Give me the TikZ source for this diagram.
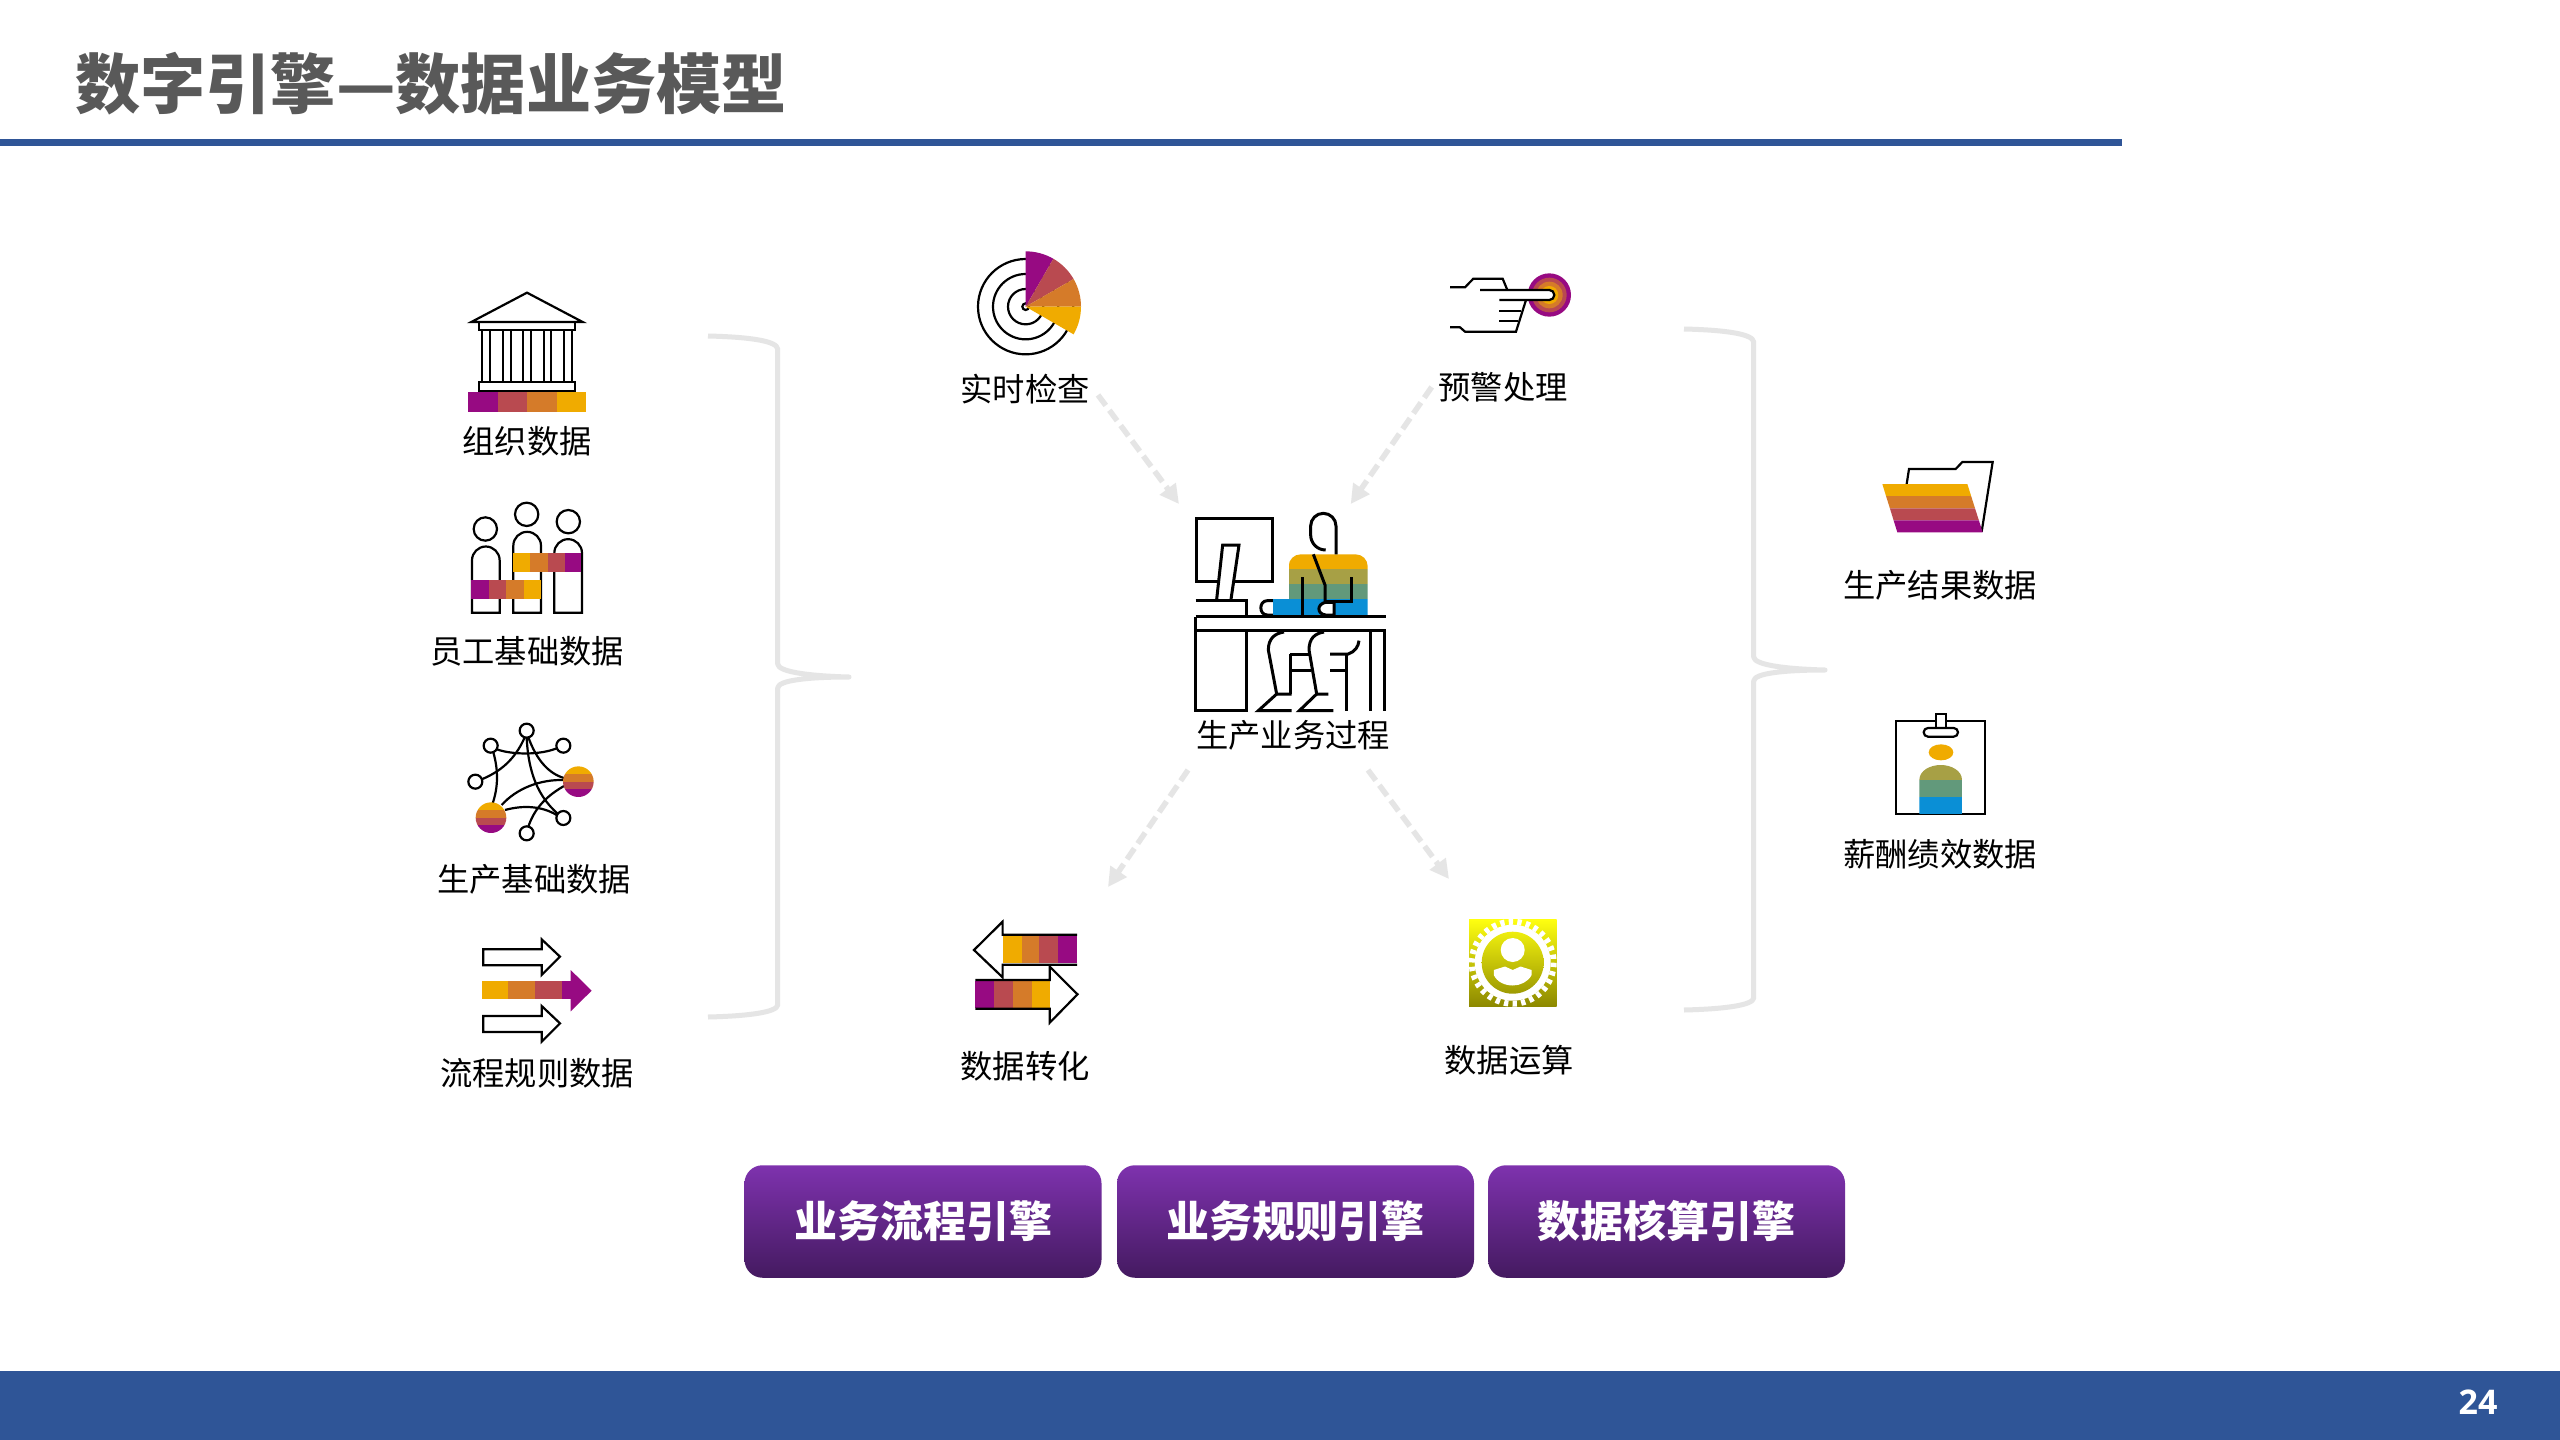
\documentclass[tikz,border=0pt]{standalone}
\usepackage{fontspec}
\usetikzlibrary{arrows.meta}
\setmainfont{Noto Sans CJK SC}
\newfontfamily\numfont{Open Sans}
\definecolor{cP}{HTML}{970A82}
\definecolor{cR}{HTML}{B94A50}
\definecolor{cO}{HTML}{D57B29}
\definecolor{cY}{HTML}{F0AB00}
\definecolor{cL}{HTML}{A7A045}
\definecolor{cG}{HTML}{62997B}
\definecolor{cB}{HTML}{0A8FD6}
\definecolor{barblue}{HTML}{2F5597}
\definecolor{lightg}{HTML}{E5E5E5}
\definecolor{titleg}{HTML}{595959}
\definecolor{gearTop}{HTML}{FFFF10}
\definecolor{gearBot}{HTML}{8C8800}
\tikzset{
  zm/.style={x=0.33333pt,y=-0.33333pt},
  ic/.style={draw=black,line width=2.2pt,line join=miter},
  icb/.style={draw=black,line width=3pt,line join=miter},
  lab/.style={inner sep=0pt,font=\fontsize{32.3}{38}\selectfont,text=black},
  engine/.style={rectangle,rounded corners=18pt,minimum width=357pt,minimum height=112.5pt,inner sep=0pt,
    top color=btnTop,middle color=btnMid,bottom color=btnBot,text=white,font=\fontsize{43}{50}\selectfont\bfseries},
  flowarrow/.style={draw=lightg,line width=5.5pt,dash pattern=on 13pt off 6pt,-{Triangle[length=19pt,width=19pt]}},
  bracket/.style={draw=lightg,line width=5pt,line join=round}
}
\definecolor{btnTop}{HTML}{7E32AE}
\definecolor{btnMid}{HTML}{6C2C9A}
\definecolor{btnBot}{HTML}{441A60}
\begin{document}
\begin{tikzpicture}[x=1pt,y=-1pt]
\useasboundingbox (0,0) rectangle (2560,1440);
\fill[white] (0,0) rectangle (2560,1440);
% title and bars
\node[anchor=west,inner sep=0pt,text=titleg,font=\fontsize{65.2}{70}\selectfont\bfseries] (title) at (75,84) {数字引擎—数据业务模型};
\fill[barblue] (0,139) rectangle (2122,146);
\fill[barblue] (0,1371) rectangle (2560,1440);
\node[inner sep=0pt,text=white,font=\numfont\fontsize{34}{40}\selectfont\bfseries] (pageno) at (2478,1402) {24};

% braces
\draw[bracket] (708,336) .. controls (750,337) and (777,341) .. (777.7,349) -- (777.7,664)
  .. controls (778,672) and (810,676) .. (849,677)
  .. controls (810,677) and (778,680) .. (777.7,688) -- (777.7,1005)
  .. controls (777,1012) and (750,1016) .. (708,1017);
\draw[bracket,shift={(976,-7)}] (708,336) .. controls (750,337) and (777,341) .. (777.7,349) -- (777.7,664)
  .. controls (778,672) and (810,676) .. (849,677)
  .. controls (810,677) and (778,680) .. (777.7,688) -- (777.7,1005)
  .. controls (777,1012) and (750,1016) .. (708,1017);

% building + people
\begin{scope}[shift={(400,260)},zm]
  \draw[ic] (214,186) -- (381,98) -- (548,186) -- cycle;
  \draw[ic] (238,186) rectangle (524,209);
  \foreach \a/\b in {247/270,310/332,370/393,432/453,493/517}{
    \draw[ic] (\a,209) -- (\a,367) (\b,209) -- (\b,367);
  }
  \draw[ic] (238,367) rectangle (524,392);
  \fill[cP] (205,395) rectangle (294,456);
  \fill[cR] (294,395) rectangle (381,456);
  \fill[cO] (381,395) rectangle (470,456);
  \fill[cY] (470,395) rectangle (557,456);
  % people
  \draw[ic] (256,807) circle (35);
  \draw[ic] (380,763) circle (35);
  \draw[ic] (505,785) circle (35);
  \draw[ic] (216,1058) -- (216,901) arc[start angle=180,end angle=0,radius=13.83pt] -- (299,1058) -- cycle;
  \draw[ic] (340,1058) -- (340,857) arc[start angle=180,end angle=0,radius=13.83pt] -- (423,1058) -- cycle;
  \draw[ic] (463,1058) -- (463,879) arc[start angle=180,end angle=0,radius=13.83pt] -- (546,1058) -- cycle;
  \fill[cY] (338,880) rectangle (390,937);
  \fill[cO] (390,880) rectangle (444,937);
  \fill[cR] (444,880) rectangle (496,937);
  \fill[cP] (496,880) rectangle (542,937);
  \fill[cP] (213,960) rectangle (267,1018);
  \fill[cR] (267,960) rectangle (318,1018);
  \fill[cO] (318,960) rectangle (372,1018);
  \fill[cY] (372,960) rectangle (424,1018);
\end{scope}

% network + process arrows
\begin{scope}[shift={(400,700)},zm]
  \draw[ic] (375,110) .. controls (345,180) and (300,215) .. (245,238);
  \draw[ic] (290,148) .. controls (340,165) and (420,165) .. (470,145);
  \draw[ic] (280,157) .. controls (295,210) and (295,260) .. (278,310);
  \draw[ic] (380,112) .. controls (385,220) and (415,290) .. (474,342);
  \draw[ic] (385,112) .. controls (410,180) and (445,220) .. (492,234);
  \draw[ic] (305,315) .. controls (350,265) and (420,238) .. (492,240);
  \draw[ic] (315,330) .. controls (370,315) and (425,318) .. (470,345);
  \draw[ic] (385,380) .. controls (405,320) and (445,285) .. (492,258);
  \foreach \p in {(380,92),(272,137),(490,137),(226,245),(490,354),(380,400)}{
    \filldraw[ic,fill=white] \p circle (21);
  }
  \begin{scope}
    \clip (535,245) circle (46);
    \fill[cY] (480,199) rectangle (590,222);
    \fill[cO] (480,222) rectangle (590,245);
    \fill[cR] (480,245) rectangle (590,268);
    \fill[cP] (480,268) rectangle (590,291);
  \end{scope}
  \begin{scope}
    \clip (273,353) circle (46);
    \fill[cY] (220,307) rectangle (330,330);
    \fill[cO] (220,330) rectangle (330,353);
    \fill[cR] (220,353) rectangle (330,376);
    \fill[cP] (220,376) rectangle (330,399);
  \end{scope}
  \draw[ic] (250,748) -- (425,748) -- (425,718) -- (480,770) -- (425,825) -- (425,796) -- (250,796) -- cycle;
  \draw[ic] (250,948) -- (425,948) -- (425,918) -- (480,970) -- (425,1025) -- (425,996) -- (250,996) -- cycle;
  \fill[cY] (247,844) rectangle (325,898);
  \fill[cO] (325,844) rectangle (405,898);
  \fill[cR] (405,844) rectangle (485,898);
  \fill[cP] (485,844) rectangle (512,898);
  \fill[cP] (512,810) -- (575,872) -- (512,934) -- cycle;
\end{scope}

% radar
\begin{scope}[shift={(940,230)},zm]
  \draw[ic] (257,230) circle (10);
  \draw[ic] (257,230) circle (53);
  \draw[ic] (257,230) circle (98);
  \draw[ic] (257,230) circle (143);
  \fill[cP] (257,230) -- ++(90:55.33pt) arc[start angle=90,end angle=60,radius=55.33pt] -- cycle;
  \fill[cR] (257,230) -- ++(60:55.33pt) arc[start angle=60,end angle=30,radius=55.33pt] -- cycle;
  \fill[cO] (257,230) -- ++(30:55.33pt) arc[start angle=30,end angle=0,radius=55.33pt] -- cycle;
  \fill[cY] (257,230) -- ++(0:55.33pt) arc[start angle=0,end angle=-30,radius=55.33pt] -- cycle;
\end{scope}

% pointing hand
\begin{scope}[shift={(1420,250)},zm]
  \fill[cP] (388,135) circle (65);
  \fill[cR] (388,135) circle (52);
  \fill[cO] (388,135) circle (40);
  \fill[cY] (388,135) circle (27);
  \draw[ic] (90,112) -- (135,112) -- (160,86) -- (248,86) -- (262,120);
  \filldraw[ic,fill=white] (180,120) -- (388,120) arc[start angle=90,end angle=-90,radius=5pt] -- (238,150);
  \draw[ic] (238,182) -- (302,182);
  \draw[ic] (238,214) -- (295,214);
  \draw[ic] (318,150) -- (288,245) -- (135,245) -- (120,232) -- (90,232);
\end{scope}

% worker at desk
\begin{scope}[shift={(1160,500)},zm]
  \draw[icb] (110,55) rectangle (337,245);
  \filldraw[icb,fill=white] (170,298) -- (188,135) -- (237,135) -- (213,298);
  \draw[icb] (107,302) -- (260,302) -- (260,345);
  \filldraw[icb,fill=white] (340,302) -- (322,302) .. controls (296,302) and (296,345) .. (322,345) -- (340,345);
  \begin{scope}
    \clip[rounded corners=12pt] (386,420) rectangle (623,163);
    \fill[cY] (386,163) rectangle (623,208);
    \fill[cL] (386,208) rectangle (623,252);
    \fill[cG] (386,252) rectangle (623,298);
    \fill[cB] (386,298) rectangle (623,346);
  \end{scope}
  \fill[cB] (340,298) rectangle (386,346);
  \draw[icb] (528,163) -- (528,78) arc[start angle=0,end angle=180,radius=12.67pt] -- (452,105) .. controls (452,128) and (470,150) .. (497,150);
  \draw[icb] (460,163) -- (495,255) -- (495,306);
  \draw[icb] (428,232) -- (428,345);
  \draw[icb] (573,232) -- (573,303) -- (495,303);
  \filldraw[icb,fill=white] (497,307) .. controls (470,312) and (470,342) .. (497,345) -- (522,345) -- (522,307) -- cycle;
  % desk
  \draw[icb] (107,350) -- (677,350);
  \draw[icb] (107,350) -- (107,632) -- (260,632) -- (260,392);
  \draw[icb] (107,392) -- (677,392);
  \draw[icb] (632,392) -- (632,634);
  \draw[icb] (672,392) -- (672,634);
  % legs
  \draw[icb] (372,396) .. controls (345,400) and (325,415) .. (325,450) -- (350,582) -- (395,582);
  \draw[icb] (350,582) -- (295,632) -- (395,632);
  \draw[icb] (492,396) .. controls (465,400) and (447,415) .. (447,450) -- (470,582) -- (505,582);
  \draw[icb] (470,582) -- (418,632) -- (520,632);
  % chair
  \draw[icb] (390,462) -- (452,462);
  \draw[icb] (392,462) -- (392,582);
  \draw[icb] (395,510) -- (452,510);
  \draw[icb] (510,462) -- (565,462) .. controls (585,455) and (595,440) .. (597,422);
  \draw[icb] (510,510) -- (560,510);
  \draw[icb] (560,462) -- (560,634);
\end{scope}

% data conversion arrows (zoom stretched 2.376 : 3)
\begin{scope}[shift={(950,900)},x=0.42088pt,y=-0.33333pt]
  \fill[cY] (125,108) rectangle (170,190);
  \fill[cO] (170,108) rectangle (212,190);
  \fill[cR] (212,108) rectangle (257,190);
  \fill[cP] (257,108) rectangle (302,190);
  \draw[ic] (302,104) -- (125,104) -- (125,65) -- (57,150) -- (125,232) -- (125,194) -- (302,194);
  \fill[cP] (60,243) rectangle (105,323);
  \fill[cR] (105,243) rectangle (150,323);
  \fill[cO] (150,243) rectangle (195,323);
  \fill[cY] (195,243) rectangle (238,323);
  \draw[ic] (60,240) -- (237,240) -- (237,200) -- (303,283) -- (237,368) -- (237,326) -- (60,326);
\end{scope}

% gear
\begin{scope}
  \shade[top color=gearTop,bottom color=gearBot] (1469,919) rectangle (1556.5,1006.7);
  \fill[white] (1512.7,962.7) circle (38);
  \draw[white,line width=6pt,dash pattern=on 4.3pt off 4.3pt] (1512.7,962.7) circle (41);
  \begin{scope}
    \clip (1512.7,962.7) circle (31);
    \shade[top color=gearTop,bottom color=gearBot] (1469,919) rectangle (1556.5,1006.7);
  \end{scope}
  \fill[white] (1512.7,950) circle (12);
  \fill[white] (1493.8,970) -- (1505,966.5) -- (1512.7,970) -- (1520.5,966.5) -- (1531.6,970) -- (1531.6,975)
    .. controls (1528,982) and (1520,985.5) .. (1512.7,985.5) .. controls (1505,985.5) and (1497,982) .. (1493.8,975) -- cycle;
\end{scope}

% folder + badge
\begin{scope}[shift={(1850,440)},zm]
  \draw[ic] (170,132) -- (177,87) -- (317,87) -- (337,66) -- (428,66) -- (395,275);
  \fill[cY] (97,132) -- (352,132) -- (363.4,168) -- (108,168) -- cycle;
  \fill[cO] (108,168) -- (363.4,168) -- (375,205) -- (119.7,205) -- cycle;
  \fill[cR] (119.7,205) -- (375,205) -- (386.6,241) -- (130.8,241) -- cycle;
  \fill[cP] (130.8,241) -- (386.6,241) -- (398,277) -- (142,277) -- cycle;
  \draw[ic] (139,842) rectangle (406,1121);
  \filldraw[ic,fill=white] (257,864) -- (257,822) -- (288,822) -- (288,864);
  \filldraw[ic,fill=white,rounded corners=4.3pt] (221,864) rectangle (324,890);
  \fill[cY] (273,937) ellipse [x radius=37,y radius=24];
  \begin{scope}
    \clip (208,1123) -- (208,1020) .. controls (208,992) and (240,975) .. (272,975) .. controls (304,975) and (336,992) .. (336,1020) -- (336,1123) -- cycle;
    \fill[cL] (200,970) rectangle (340,1020);
    \fill[cG] (200,1020) rectangle (340,1071);
    \fill[cB] (200,1071) rectangle (340,1123);
  \end{scope}
\end{scope}

% labels
\node[lab] (lOrg) at (527,441) {组织数据};
\node[lab] (lEmp) at (527,651) {员工基础数据};
\node[lab] (lPro) at (534,879) {生产基础数据};
\node[lab] (lFlow) at (537,1073) {流程规则数据};
\node[lab] (lCheck) at (1025,389) {实时检查};
\node[lab] (lWarn) at (1503,387) {预警处理};
\node[lab] (lProc) at (1293,735) {生产业务过程};
\node[lab] (lConv) at (1025,1066) {数据转化};
\node[lab] (lCalc) at (1509,1060) {数据运算};
\node[lab] (lRes) at (1940,585) {生产结果数据};
\node[lab] (lPay) at (1940,854) {薪酬绩效数据};

% flows
\coordinate (cA) at (1179,504);
\coordinate (cB2) at (1350.7,504);
\coordinate (cC) at (1188,770);
\coordinate (cD) at (1368,770);
\coordinate (a1) at (1098,395);
\coordinate (a2) at (1431.7,387);
\coordinate (a3) at (1108,887);
\coordinate (a4) at (1449,879);
\draw[flowarrow] (a1) -- (cA);
\draw[flowarrow] (a2) -- (cB2);
\draw[flowarrow] (cC) -- (a3);
\draw[flowarrow] (cD) -- (a4);

% engines
\node[engine] (e1) at (923,1221.5) {业务流程引擎};
\node[engine] (e2) at (1295.5,1221.5) {业务规则引擎};
\node[engine] (e3) at (1666.5,1221.5) {数据核算引擎};
\end{tikzpicture}
\end{document}
